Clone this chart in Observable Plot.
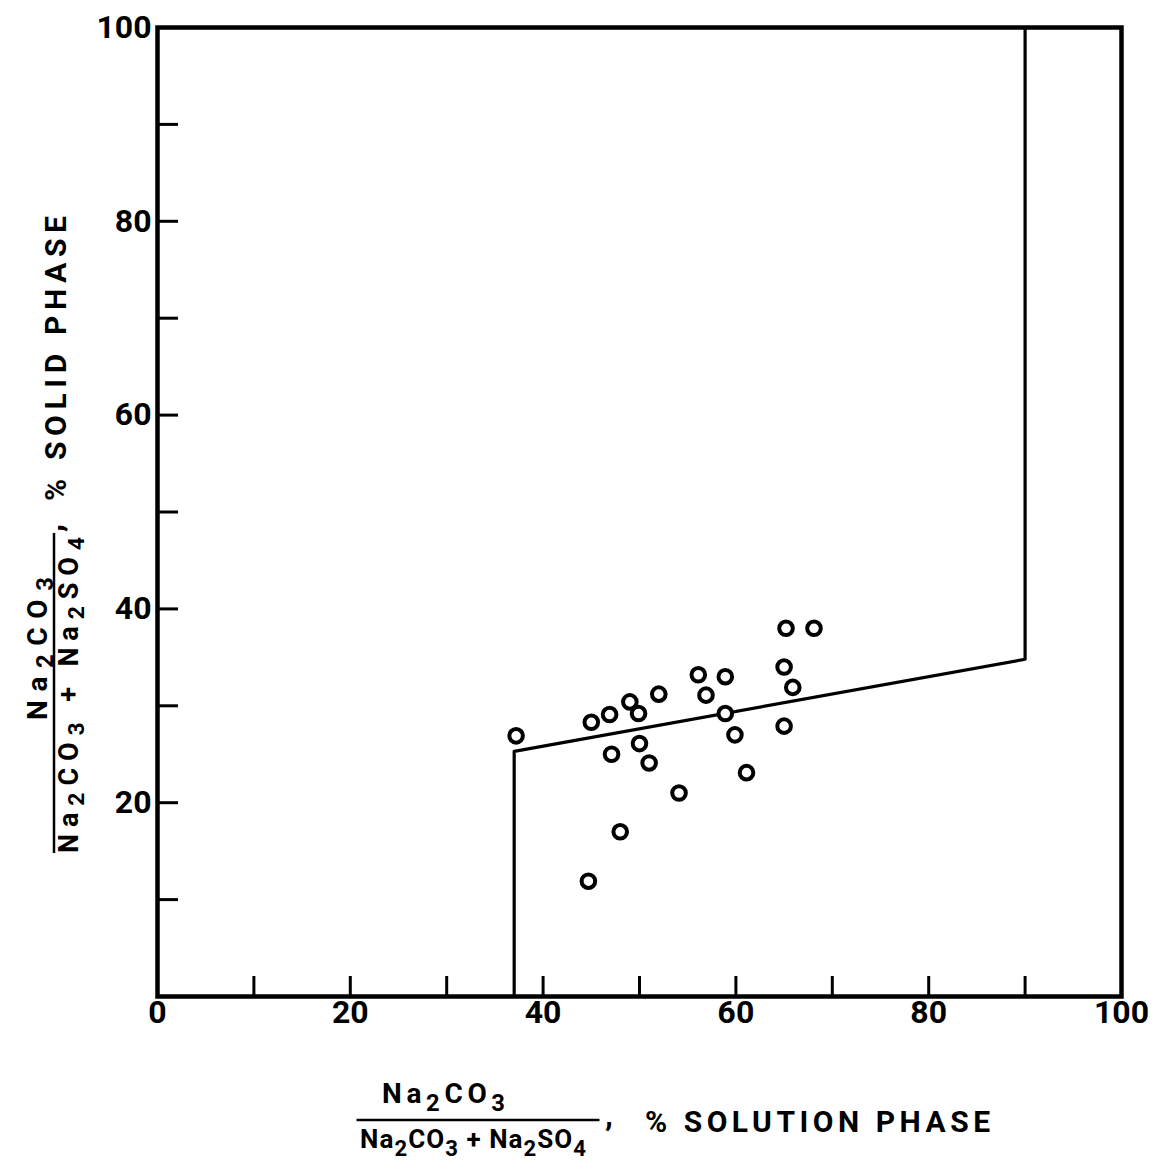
<!DOCTYPE html>
<html>
<head>
<meta charset="utf-8">
<script src="https://cdn.jsdelivr.net/npm/d3@7"></script>
<script src="https://cdn.jsdelivr.net/npm/@observablehq/plot@0.6"></script>
<style>
  html, body { margin: 0; padding: 0; background: #fff; }
  #chart svg { display: block; }
</style>
</head>
<body>
<div id="chart"></div>
<script>
// ---- data ----
const solutionPct = [37.2, 45.0, 46.9, 49.0, 49.9, 52.0, 56.1, 58.9, 56.9, 58.9, 65.2, 68.1, 65.0, 65.9, 65.0, 59.9, 47.1, 50.0, 51.0, 61.1, 54.1, 48.0, 44.7];
const solidPct    = [26.9, 28.3, 29.1, 30.4, 29.2, 31.2, 33.2, 33.0, 31.1, 29.2, 38.0, 38.0, 34.0, 31.9, 27.9, 27.0, 25.0, 26.1, 24.1, 23.1, 21.0, 17.0, 11.9];

const boundaryX = [37, 37, 90, 90];
const boundaryY = [0, 25.3, 34.8, 100];

const xTicks = [0, 10, 20, 30, 40, 50, 60, 70, 80, 90, 100];
const yTicks = [10, 20, 30, 40, 50, 60, 70, 80, 90];
const xTickLabels = [0, 20, 40, 60, 80, 100];
const yTickLabels = [20, 40, 60, 80, 100];

const points = solutionPct.map((x, i) => ({x, y: solidPct[i]}));
const boundary = boundaryX.map((x, i) => ({x, y: boundaryY[i]}));

const W = 1153, H = 1168;
const FONT = "Roboto, 'DejaVu Sans', sans-serif";

const chart = Plot.plot({
  width: W,
  height: H,
  marginLeft: 157,
  marginRight: 32,
  marginTop: 27,
  marginBottom: 172,
  style: {fontFamily: FONT, fontWeight: "bold", color: "#000", background: "#fff"},
  x: {domain: [0, 100]},
  y: {domain: [0, 100]},
  marks: [
    Plot.axisX(xTicks, {tickSize: -20, strokeWidth: 3, tickFormat: () => "", label: null}),
    Plot.axisX(xTickLabels, {tickSize: 0, tickPadding: 4, fontSize: 32, fontWeight: "bold", label: null}),
    Plot.axisY(yTicks, {tickSize: -21, strokeWidth: 3, tickFormat: () => "", label: null}),
    Plot.axisY(yTickLabels, {tickSize: 0, tickPadding: 6, fontSize: 32, fontWeight: "bold", label: null}),
    Plot.frame({stroke: "#000", strokeWidth: 4.5}),
    Plot.line(boundary, {x: "x", y: "y", stroke: "#000", strokeWidth: 3.2, curve: "linear"}),
    Plot.dot(points, {x: "x", y: "y", r: 6.8, stroke: "#000", strokeWidth: 4, fill: "#fff"})
  ]
});

document.getElementById("chart").appendChild(chart);

// ---- axis titles (fraction labels with subscripts) ----
const svg = d3.select(chart);

function formula(textSel, parts, s) {
  let down = false;
  parts.forEach(p => {
    const ts = textSel.append("tspan").text(p.t);
    if (p.sub && !down) { ts.attr("dy", s); down = true; }
    else if (!p.sub && down) { ts.attr("dy", -s); down = false; }
    if (p.sub) ts.attr("font-size", "0.85em");
  });
}

const numParts = [{t: "Na"}, {t: "2", sub: true}, {t: "CO"}, {t: "3", sub: true}];
const denParts = [{t: "Na"}, {t: "2", sub: true}, {t: "CO"}, {t: "3", sub: true}, {t: " + Na"}, {t: "2", sub: true}, {t: "SO"}, {t: "4", sub: true}];

function txt(g, x, y, fs, anchor) {
  return g.append("text")
    .attr("x", x).attr("y", y)
    .attr("text-anchor", anchor)
    .attr("font-size", fs).attr("font-weight", "bold")
    .attr("font-family", FONT)
    .attr("fill", "#000")
    .attr("stroke", "none");
}

function fractionLabel(g, o) {
  g.append("line")
    .attr("x1", -o.lineLen / 2).attr("x2", o.lineLen / 2)
    .attr("y1", 0).attr("y2", 0)
    .attr("stroke", "#000").attr("stroke-width", 2.5);
  const num = txt(g, o.numX, o.numBase, o.numFs, "start")
    .attr("textLength", o.numLen).attr("lengthAdjust", "spacing");
  formula(num, numParts, o.sub);
  const den = txt(g, o.denX, o.denBase, o.fs, "start")
    .attr("textLength", o.denLen).attr("lengthAdjust", "spacing");
  formula(den, denParts, o.sub);
  txt(g, o.commaX, o.commaY, o.fs + 6, "start").text(",");
  txt(g, o.restX, o.restBase, o.restFs, "start")
    .attr("textLength", o.restLen).attr("lengthAdjust", "spacing")
    .text(o.rest);
}

// x-axis title (group origin = centre of fraction bar)
fractionLabel(
  svg.append("g").attr("transform", "translate(478,1120)"),
  {lineLen: 243, fs: 26, numFs: 28, sub: 8,
   numX: -96, numBase: -17, numLen: 123,
   denX: -118, denBase: 28, denLen: 226,
   commaX: 127, commaY: 6,
   restX: 167, restBase: 12, restFs: 30, restLen: 345, rest: "% SOLUTION PHASE"}
);

// y-axis title (rotated)
fractionLabel(
  svg.append("g").attr("transform", "translate(54,693) rotate(-90)"),
  {lineLen: 320, fs: 27, numFs: 28, sub: 6,
   numX: -27, numBase: -7, numLen: 143,
   denX: -160, denBase: 24, denLen: 316,
   commaX: 161, commaY: 8,
   restX: 192, restBase: 12, restFs: 30, restLen: 285, rest: "% SOLID PHASE"}
);
</script>
</body>
</html>
